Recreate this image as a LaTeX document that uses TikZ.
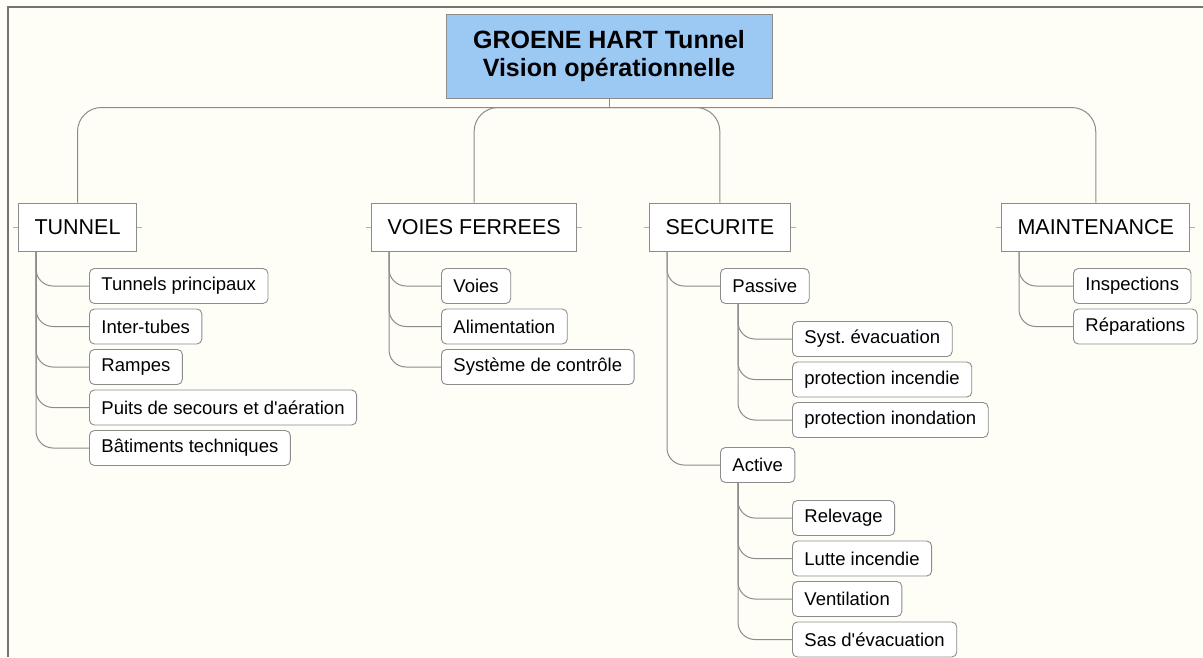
\documentclass[tikz,border=0pt]{standalone}
\usepackage{fontspec}
\setmainfont{Liberation Sans}
\usetikzlibrary{positioning}

\definecolor{rootblue}{RGB}{156,200,244}
\definecolor{wire}{RGB}{140,140,140}
\definecolor{paper}{RGB}{254,254,247}

\begin{document}
\begin{tikzpicture}[x=1pt,y=-1pt,
    root/.style={draw=wire,fill=rootblue,line width=1pt,minimum width=326pt,
      minimum height=84pt,align=center,font=\fontsize{25}{28}\selectfont\bfseries},
    topic/.style={draw=wire,fill=white,line width=1pt,minimum height=48pt,
      inner xsep=16pt,anchor=west,font=\fontsize{21.5}{24}\selectfont},
    sub/.style={draw=wire,fill=white,line width=0.9pt,rounded corners=5pt,
      minimum height=35pt,inner xsep=12pt,anchor=west,font=\fontsize{18.5}{21}\selectfont},
    trunk/.style={draw=wire,line width=1pt,rounded corners=24pt,
      to path={(\tikztostart) -| (\tikztotarget.north)}},
    kid/.style={draw=wire,line width=1pt,rounded corners=17pt,
      to path={([xshift=18pt]\tikztostart.south west) |- (\tikztotarget.west)}},
    stub/.style={draw=wire!70,line width=0.8pt}]

  \fill[paper] (0,0) rectangle (1203,657);
  \useasboundingbox (0,0) rectangle (1203,657);
  \draw[black!55,line width=1.2pt] (1203,7) -- (8,7) -- (8,657);

  \node[root] (root) at (609,56) {GROENE HART Tunnel\\Vision opérationnelle};
  \coordinate (hub) at ([yshift=-9pt]root.south);

  \node[topic] (tunnel) at (18,227) {TUNNEL};
  \node[topic] (voies) at (371,227) {VOIES FERREES};
  \node[topic] (secu) at (649,227) {SECURITE};
  \node[topic] (maint) at (1001,227) {MAINTENANCE};

  % tunnel
  \node[sub] (tp) at (89,286) {Tunnels principaux};
  \node[sub,below=4.6pt of tp.south west,anchor=north west] (it) {Inter-tubes};
  \node[sub,below=4.6pt of it.south west,anchor=north west] (ra) {Rampes};
  \node[sub,below=4.6pt of ra.south west,anchor=north west] (pu) {Puits de secours et d\textquotesingle aération};
  \node[sub,below=4.6pt of pu.south west,anchor=north west] (bt) {Bâtiments techniques};

  % voies ferrees
  \node[sub] (vo) at (441,286) {Voies};
  \node[sub,below=4.6pt of vo.south west,anchor=north west] (al) {Alimentation};
  \node[sub,below=4.6pt of al.south west,anchor=north west] (sc) {Système de contrôle};

  % securite
  \node[sub] (passive) at (720,286) {Passive};
  \node[sub] (se) at (792,339) {Syst.\ évacuation};
  \node[sub,below=4.6pt of se.south west,anchor=north west] (pinc) {protection incendie};
  \node[sub,below=4.6pt of pinc.south west,anchor=north west] (pino) {protection inondation};
  \node[sub] (active) at (720,465) {Active};
  \node[sub] (re) at (792,518) {Relevage};
  \node[sub,below=4.6pt of re.south west,anchor=north west] (li) {Lutte incendie};
  \node[sub,below=4.6pt of li.south west,anchor=north west] (ve) {Ventilation};
  \node[sub,below=4.6pt of ve.south west,anchor=north west] (sas) {Sas d\textquotesingle évacuation};

  % maintenance
  \node[sub] (ins) at (1073,286) {Inspections};
  \node[sub,below=4.6pt of ins.south west,anchor=north west] (rep) {Réparations};

  \draw[wire,line width=1pt] (root) -- (hub);
  \path (hub) edge[trunk] (tunnel)
              edge[trunk] (voies)
              edge[trunk] (secu)
              edge[trunk] (maint);

  \path (tunnel) edge[kid] (tp) edge[kid] (it) edge[kid] (ra) edge[kid] (pu) edge[kid] (bt)
        (voies) edge[kid] (vo) edge[kid] (al) edge[kid] (sc)
        (secu) edge[kid] (passive) edge[kid] (active)
        (passive) edge[kid] (se) edge[kid] (pinc) edge[kid] (pino)
        (active) edge[kid] (re) edge[kid] (li) edge[kid] (ve) edge[kid] (sas)
        (maint) edge[kid] (ins) edge[kid] (rep);

  \foreach \n in {tunnel,voies,secu,maint}
    \draw[stub] (\n.west) -- ++(-5pt,0) (\n.east) -- ++(5pt,0);

\end{tikzpicture}
\end{document}
